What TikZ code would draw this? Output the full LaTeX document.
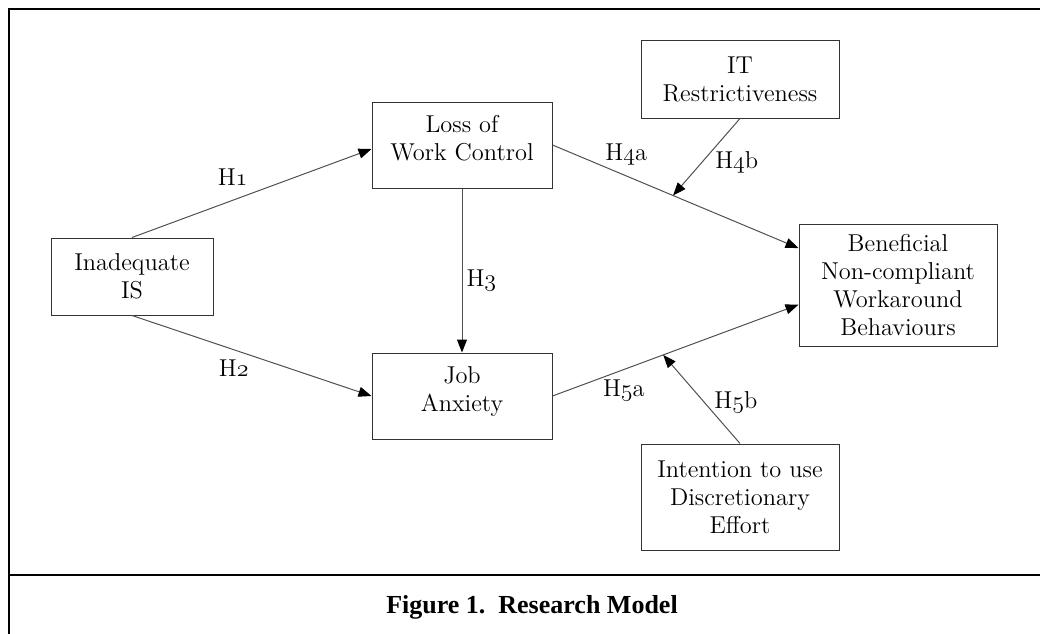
\documentclass[tikz,border=0pt]{standalone}
\usepackage{fontspec}
\usepackage{tikz}
\usetikzlibrary{arrows.meta,positioning,calc}
\newfontfamily\capfont{Liberation Serif}
\definecolor{edge}{HTML}{333333}
\definecolor{link}{HTML}{505050}
\newcommand{\hnum}[1]{{\usefont{OML}{cmm}{m}{it}#1}}
\begin{document}
\begin{tikzpicture}[x=0.5pt,y=-0.5pt,>={Triangle[length=6.5pt,width=5pt,color=black]},
  box/.style={draw=edge,line width=0.5pt,align=center,inner sep=2pt,font=\fontsize{12.2}{14}\selectfont},
  raised/.style={text depth=7pt},
  arrow/.style={->,line width=0.5pt,color=link},
  hyp/.style={inner sep=1pt,text=black,font=\fontsize{12.2}{14}\selectfont}]
  \useasboundingbox (0,0) rectangle (1040,633);
  \draw[line width=0.8pt] (1045,9) -- (9,9) -- (9,645);
  \draw[line width=0.8pt] (9,575) -- (1045,575);
  \node[box,minimum width=81pt,minimum height=38.5pt] (isys) at (132,276.5) {Inadequate\\IS};
  \node[box,raised,minimum width=90pt,minimum height=43pt] (loss) at (462,145) {Loss of\\Work Control};
  \node[box,raised,minimum width=90pt,minimum height=43pt] (anx) at (462,396) {Job\\Anxiety};
  \node[box,minimum width=99pt,minimum height=39pt] (restr) at (740,79) {IT\\Restrictiveness};
  \node[box,minimum width=99pt,minimum height=61pt] (bwb) at (898,285) {Beneficial\\Non-compliant\\Workaround\\Behaviours};
  \node[box,minimum width=99pt,minimum height=53pt] (disc) at (740,497) {Intention to use\\Discretionary\\Effort};
  \draw[arrow] (isys.north) -- ([yshift=-2pt]loss.west) node[hyp,pos=0.42,above=6pt] (h1) {H\hnum{1}};
  \draw[arrow] (isys.south) -- (anx.west) node[hyp,pos=0.425,below=4pt] (h2) {H\hnum{2}};
  \draw[arrow] (loss.south) -- (anx.north) node[hyp,pos=0.56,right=1pt] (h3) {H\hnum{3}};
  \draw[arrow] (loss.east) -- ($(bwb.north west)!0.2!(bwb.south west)$) coordinate[pos=0.49] (m4)
    node[hyp,pos=0.3,above=4pt] (h4a) {H\hnum{4}a};
  \draw[arrow] (anx.east) -- ($(bwb.north west)!0.66!(bwb.south west)$) coordinate[pos=0.45] (m5)
    node[hyp,pos=0.29,below=4pt] (h5a) {H\hnum{5}a};
  \draw[arrow] (restr.south) -- (m4) node[hyp,pos=0.57,right=5.5pt] (h4b) {H\hnum{4}b};
  \draw[arrow] (disc.north) -- (m5) node[hyp,pos=0.47,right=4pt] (h5b) {H\hnum{5}b};
  \node[font=\capfont\bfseries\fontsize{13}{15}\selectfont] (cap) at (532,607) {Figure 1.\ \ Research Model};
\end{tikzpicture}
\end{document}
